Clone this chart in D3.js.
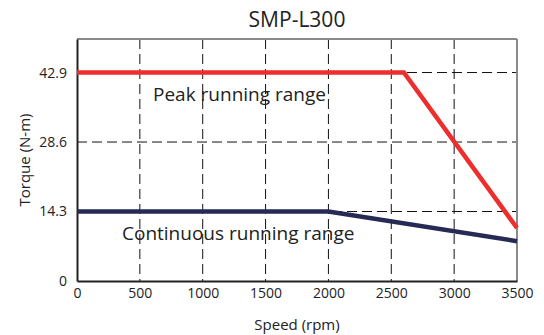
<!DOCTYPE html>
<html>
<head>
<meta charset="utf-8">
<script src="https://cdn.jsdelivr.net/npm/d3@7"></script>
<style>
  body { margin: 0; background: #fff; }
  text { font-family: "Open Sans", "Noto Sans", sans-serif; fill: #222; }
</style>
</head>
<body>
<div id="chart"></div>
<script>
// curves
var peakSpeed = [0, 2600, 3500];
var peakTorque = [42.9, 42.9, 10.9];
var contSpeed = [0, 2000, 3500];
var contTorque = [14.3, 14.3, 8.2];
var xTicks = [0, 500, 1000, 1500, 2000, 2500, 3000, 3500];
var yTicks = [0, 14.3, 28.6, 42.9];

var W = 544, H = 335;
var margin = {top: 39, right: 27, bottom: 54, left: 77};
var width = W - margin.left - margin.right,
    height = H - margin.top - margin.bottom;

var svg = d3.select("#chart").append("svg")
    .attr("width", W).attr("height", H)
  .append("g")
    .attr("transform", "translate(" + margin.left + "," + margin.top + ")");

var x = d3.scaleLinear().domain([0, 3500]).range([0, width]);
var y = d3.scaleLinear().domain([0, 49.8]).range([height, 0]);

// dashed grid
svg.append("g").selectAll("line")
  .data(xTicks.slice(1, -1))
  .enter().append("line")
    .attr("x1", function(d) { return x(d); }).attr("x2", function(d) { return x(d); })
    .attr("y1", 0).attr("y2", height)
    .attr("stroke", "#111").attr("stroke-width", 1)
    .attr("stroke-dasharray", "10,5");
svg.append("g").selectAll("line")
  .data(yTicks.slice(1))
  .enter().append("line")
    .attr("x1", 0).attr("x2", width)
    .attr("y1", function(d) { return y(d); }).attr("y2", function(d) { return y(d); })
    .attr("stroke", "#111").attr("stroke-width", 1)
    .attr("stroke-dasharray", "10,5");

// frame: top/right grey, left/bottom dark
svg.append("line").attr("x1", 0).attr("x2", width).attr("y1", 0).attr("y2", 0)
  .attr("stroke", "#8a8a8a").attr("stroke-width", 2);
svg.append("line").attr("x1", width).attr("x2", width).attr("y1", 0).attr("y2", height)
  .attr("stroke", "#8a8a8a").attr("stroke-width", 2);

// axes
var xAxis = svg.append("g")
  .attr("transform", "translate(0," + height + ")")
  .call(d3.axisBottom(x).tickValues(xTicks).tickSize(0).tickPadding(7)
    .tickFormat(d3.format("d")));
var yAxis = svg.append("g")
  .call(d3.axisLeft(y).tickValues(yTicks).tickSize(0).tickPadding(10)
    .tickFormat(function(d) { return d === 0 ? "0" : d3.format(".1f")(d); }));
[xAxis, yAxis].forEach(function(a) {
  a.select(".domain").attr("stroke", "#222").attr("stroke-width", 2);
  a.selectAll("text").attr("font-size", "14px").attr("fill", "#222")
    .attr("font-family", "'Open Sans', 'Noto Sans', sans-serif");
});
yAxis.selectAll("text").attr("dy", "0.32em");

// curves
var line = d3.line()
  .x(function(d) { return x(d[0]); })
  .y(function(d) { return y(d[1]); });

svg.append("path")
  .datum(contSpeed.map(function(s, i) { return [s, contTorque[i]]; }))
  .attr("d", line).attr("fill", "none")
  .attr("stroke", "#262a55").attr("stroke-width", 4.5);

svg.append("path")
  .datum(peakSpeed.map(function(s, i) { return [s, peakTorque[i]]; }))
  .attr("d", line).attr("fill", "none")
  .attr("stroke", "#ee2d2d").attr("stroke-width", 4.5);

// labels
svg.append("text").attr("x", 76).attr("y", 62)
  .attr("font-size", "19px").text("Peak running range");
svg.append("text").attr("x", 45).attr("y", 201)
  .attr("font-size", "19px").text("Continuous running range");

svg.append("text").attr("x", width / 2).attr("y", -12)
  .attr("text-anchor", "middle").attr("font-size", "21px").text("SMP-L300");
svg.append("text").attr("x", width / 2).attr("y", height + 49)
  .attr("text-anchor", "middle").attr("font-size", "15px").text("Speed (rpm)");
svg.append("text")
  .attr("transform", "rotate(-90)")
  .attr("x", -height / 2).attr("y", -47)
  .attr("text-anchor", "middle").attr("font-size", "15px").text("Torque (N-m)");
</script>
</body>
</html>
